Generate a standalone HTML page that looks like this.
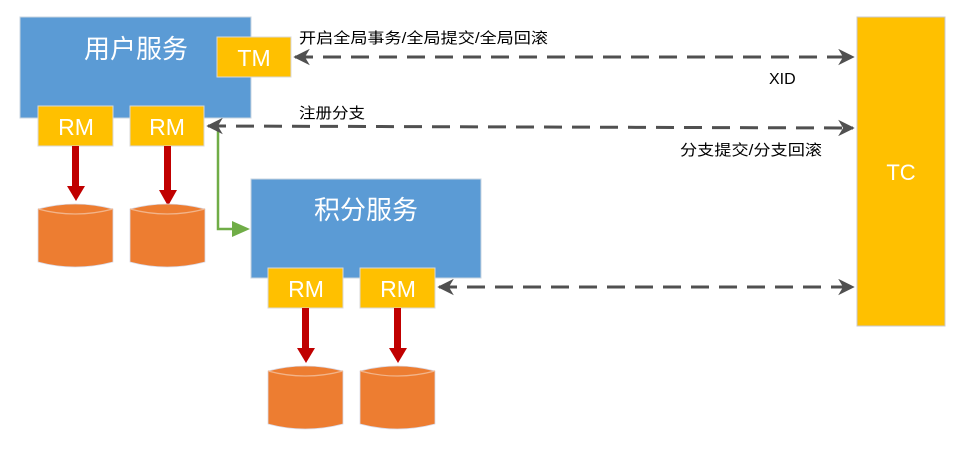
<!DOCTYPE html>
<html><head><meta charset="utf-8"><style>
html,body{margin:0;padding:0;background:#fff;}
svg{display:block;}
text{font-family:"Liberation Sans","Noto Sans CJK SC",sans-serif;}
</style></head><body>
<svg width="962" height="453" viewBox="0 0 962 453" xmlns="http://www.w3.org/2000/svg">
<defs>
<marker id="ag" viewBox="0 0 10 10" refX="9" refY="5" markerWidth="5.5" markerHeight="5.5" orient="auto-start-reverse"><path d="M0,0 L10,5 L0,10 L3,5 z" fill="#505050"/></marker>
<g id="cyl"><path d="M0,9 Q37,-1 75,9 L75,62 Q37,72 0,62 z" fill="#ed7d31" stroke="#d9d9e6" stroke-width="0.8"/><path d="M0,9 Q37,19 75,9" fill="none" stroke="#f2b48a" stroke-width="1.2"/></g>
</defs>
<rect x="20" y="17" width="231" height="101" fill="#5b9bd5" stroke="#c8d4e0"/>
<text x="136" y="58" fill="#fff" font-size="26" text-anchor="middle">用户服务</text>
<rect x="217" y="37" width="74" height="40" fill="#ffc000" stroke="#d8d8d8"/>
<text x="254" y="66" fill="#fff" font-size="23" text-anchor="middle">TM</text>
<rect x="38" y="106" width="75" height="40" fill="#ffc000" stroke="#d8d8d8"/>
<text x="76" y="135" fill="#fff" font-size="23" text-anchor="middle">RM</text>
<rect x="130" y="106" width="74" height="40" fill="#ffc000" stroke="#d8d8d8"/>
<text x="167" y="135" fill="#fff" font-size="23" text-anchor="middle">RM</text>
<rect x="72" y="146" width="7" height="42" fill="#c00000"/><path d="M67,186 L85,186 L76,201 z" fill="#c00000"/>
<rect x="164" y="146" width="7" height="46" fill="#c00000"/><path d="M159,190 L177,190 L168,206 z" fill="#c00000"/>
<use href="#cyl" x="38" y="200"/>
<use href="#cyl" x="130" y="200"/>
<path d="M218,128 L218,229 L236,229" fill="none" stroke="#70ad47" stroke-width="2.5"/>
<path d="M232,221 L250,229 L232,237 z" fill="#70ad47"/>
<rect x="251" y="179" width="230" height="99" fill="#5b9bd5" stroke="#c8d4e0"/>
<text x="366" y="219" fill="#fff" font-size="26" text-anchor="middle">积分服务</text>
<rect x="268" y="268" width="75" height="40" fill="#ffc000" stroke="#d8d8d8"/>
<text x="306" y="297" fill="#fff" font-size="23" text-anchor="middle">RM</text>
<rect x="360" y="268" width="75" height="40" fill="#ffc000" stroke="#d8d8d8"/>
<text x="398" y="297" fill="#fff" font-size="23" text-anchor="middle">RM</text>
<rect x="302" y="308" width="7" height="42" fill="#c00000"/><path d="M297,348 L315,348 L306,363 z" fill="#c00000"/>
<rect x="394" y="308" width="7" height="42" fill="#c00000"/><path d="M389,348 L407,348 L398,363 z" fill="#c00000"/>
<use href="#cyl" x="268" y="362"/>
<use href="#cyl" x="360" y="362"/>
<rect x="857" y="17" width="88" height="309" fill="#ffc000" stroke="#c8c8d0"/>
<text x="901" y="180" fill="#fff" font-size="22" text-anchor="middle">TC</text>
<g stroke="#505050" stroke-width="3" stroke-dasharray="18,10" fill="none">
<line x1="295" y1="57" x2="853" y2="57" marker-start="url(#ag)" marker-end="url(#ag)"/>
<line x1="208" y1="126" x2="853" y2="128" marker-start="url(#ag)" marker-end="url(#ag)"/>
<line x1="439" y1="287" x2="853" y2="287" marker-start="url(#ag)" marker-end="url(#ag)"/>
</g>
<g font-size="15" fill="#000">
<text x="299" y="43" textLength="249" lengthAdjust="spacingAndGlyphs">开启全局事务/全局提交/全局回滚</text>
<text x="769" y="84" font-size="16">XID</text>
<text x="299" y="118" textLength="66" lengthAdjust="spacingAndGlyphs">注册分支</text>
<text x="680" y="155" textLength="142" lengthAdjust="spacingAndGlyphs">分支提交/分支回滚</text>
</g>
</svg>
</body></html>
